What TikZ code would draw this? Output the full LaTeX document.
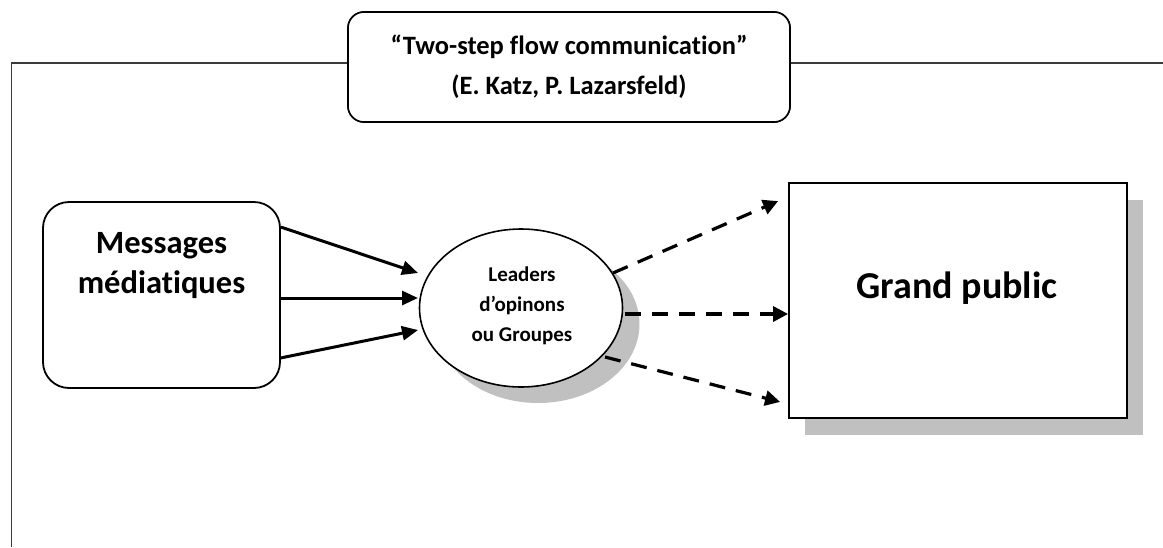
\documentclass[tikz,border=0pt]{standalone}
\usepackage{fontspec}
\setmainfont[Ligatures={NoCommon}]{Carlito}
\usetikzlibrary{arrows.meta,calc,shadows,shapes.geometric}
\definecolor{shadowgray}{HTML}{C0C0C0}
\definecolor{framegray}{HTML}{3A3A3A}
\begin{document}
\begin{tikzpicture}[x=1pt,y=-1pt,
  framestyle/.style={draw=framegray,line width=1.6pt},
  titlebox/.style={draw,line width=1.6pt,rounded corners=16pt,fill=white,minimum width=442pt,minimum height=110pt,inner sep=0pt},
  msgbox/.style={draw,line width=1.8pt,rounded corners=26pt,fill=white,minimum width=237pt,minimum height=186pt,inner sep=0pt},
  leadshape/.style={ellipse,draw,line width=1.6pt,fill=white,minimum width=203pt,minimum height=158pt,inner sep=0pt,
     drop shadow={shadow xshift=17pt,shadow yshift=-16pt,fill=shadowgray,opacity=1}},
  gpbox/.style={draw,line width=1.8pt,fill=white,minimum width=338pt,minimum height=235pt,inner sep=0pt,
     drop shadow={shadow xshift=16pt,shadow yshift=-17pt,fill=shadowgray,opacity=1}},
  txt/.style={align=center,inner sep=0pt,font=\bfseries},
  solidarrow/.style={line width=3pt,-{Triangle[length=16pt,width=14pt]}},
  dasharrow/.style={line width=3.2pt,dash pattern=on 16pt off 11pt,-{Triangle[length=15pt,width=15pt]}}
]
\useasboundingbox (0,0) rectangle (1163,547);
% title and frame
\node[titlebox] (title) at (569,67) {};
\coordinate (fl) at (11.5,63);
\coordinate (fb) at (11.5,547);
\coordinate (fr) at (1163,63);
\draw[framestyle] (title.west |- fl) -- (fl) -- (fb);
\draw[framestyle] (title.east |- fl) -- (fr);
\node[titlebox] (title) at (569,67) {};
\node[txt,font=\bfseries\fontsize{26.5}{40}\selectfont] (titletxt) at (569,67) {“Two-step flow communication”\\(E. Katz, P. Lazarsfeld)};
% messages
\node[msgbox] (msg) at (161.5,295) {};
\node[txt,font=\bfseries\fontsize{32.5}{40}\selectfont] (msgtxt) at (161.5,266) {Messages\\médiatiques};
% leaders
\node[leadshape] (lead) at (521,308) {};
\node[txt,font=\bfseries\fontsize{21}{30}\selectfont] (leadtxt) at (522,306) {Leaders\\d’opinons\\ou Groupes};
% grand public
\node[gpbox] (gp) at (958,300.5) {};
\node[txt,font=\bfseries\fontsize{38}{44}\selectfont] (gptxt) at (957,288) {Grand public};
% solid arrows
\draw[solidarrow] ($(msg.north east)+(0,26)$) -- ($(lead.center)+(-103,-35)$);
\draw[solidarrow] ($(msg.east)+(0,3)$) -- ($(lead.center)+(-103,-10)$);
\draw[solidarrow] ($(msg.south east)+(0,-31)$) -- ($(lead.center)+(-103,22)$);
% dashed arrows
\draw[dasharrow] ($(lead.center)+(92,-35)$) -- ($(gp.north west)+(-10,19)$);
\draw[dasharrow] ($(lead.center)+(104,6)$) -- ($(gp.west)+(0,13.5)$);
\draw[dasharrow] ($(lead.center)+(84,49)$) -- ($(gp.south west)+(-8,-17)$);
\end{tikzpicture}
\end{document}
